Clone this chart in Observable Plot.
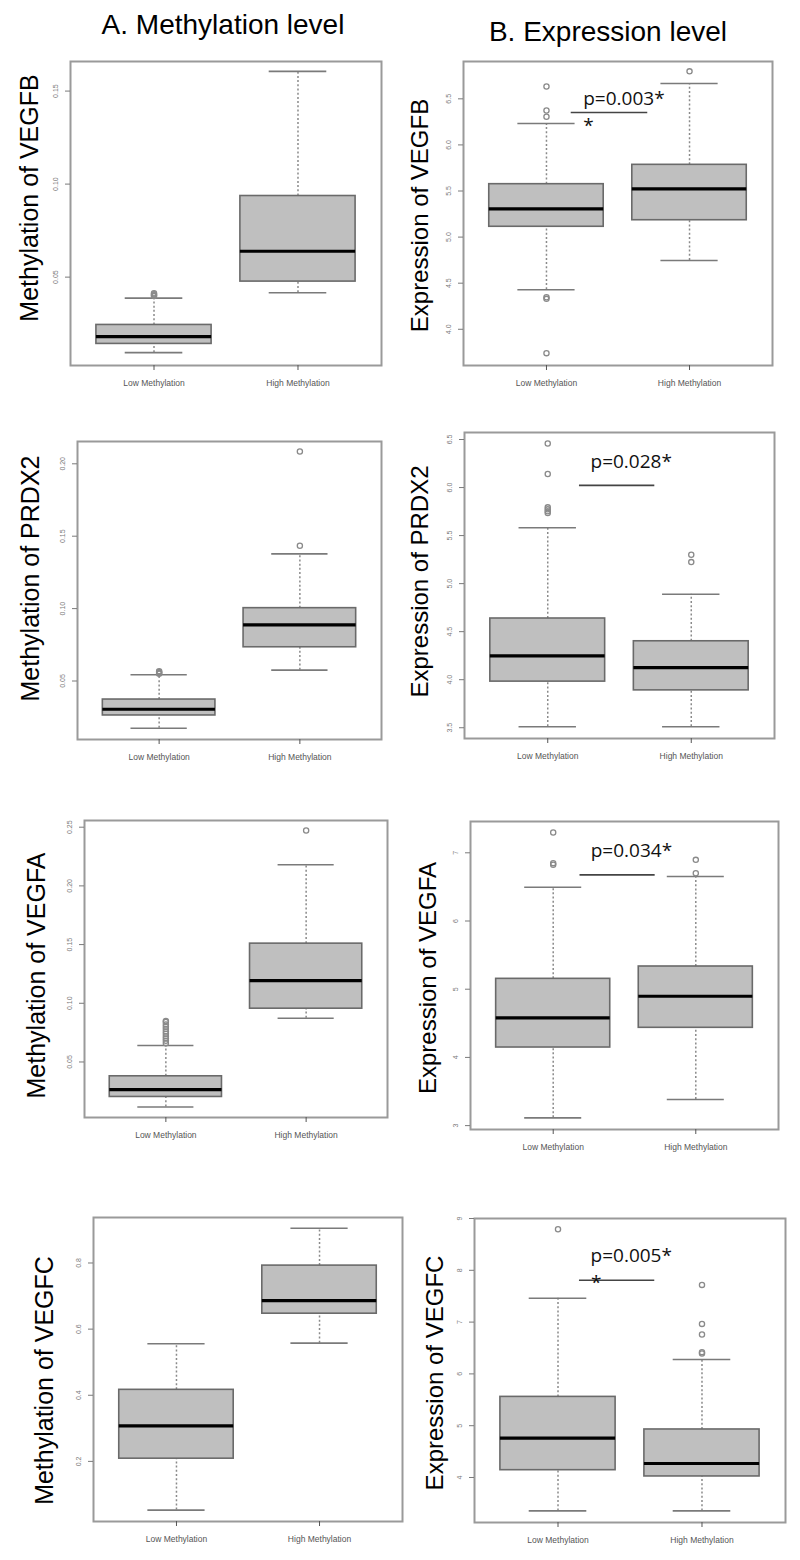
<!DOCTYPE html>
<html>
<head>
<meta charset="utf-8">
<script src="https://cdn.jsdelivr.net/npm/d3@7"></script>
<script src="https://cdn.jsdelivr.net/npm/@observablehq/plot@0.6"></script>
<style>
  html, body { margin: 0; padding: 0; background: #fff; }
  #root { position: relative; width: 800px; height: 1560px; overflow: hidden; font-family: "Liberation Sans", Arial, sans-serif; }
  .panel { position: absolute; }
  .panel svg { max-width: none !important; overflow: visible; }
  .coltitle { position: absolute; font-size: 28px; line-height: 28px; white-space: nowrap; color: #000; transform: translateX(-50%); }
</style>
</head>
<body>
<div id="root"></div>
<script>
// ---------------- DATA ----------------
const groups = ["Low Methylation", "High Methylation"];
const columnTitles = ["A. Methylation level", "B. Expression level"];

// five-number summaries: [lower whisker, Q1, median, Q3, upper whisker]
// VEGFB methylation
const vegfbMethLow = [0.0094, 0.0141, 0.0180, 0.0243, 0.0387];
const vegfbMethHigh = [0.0416, 0.0476, 0.0639, 0.0936, 0.1606];
const vegfbMethLowOut = [0.0398, 0.0403, 0.0408, 0.0413];
const vegfbMethHighOut = [];
const vegfbMethTicks = [0.05, 0.10, 0.15];
const vegfbMethRange = [0.0025, 0.1659];

// VEGFB expression
const vegfbExprLow = [4.428, 5.112, 5.307, 5.574, 6.232];
const vegfbExprHigh = [4.746, 5.183, 5.524, 5.784, 6.666];
const vegfbExprLowOut = [6.633, 6.373, 6.305, 4.348, 4.330, 3.741];
const vegfbExprHighOut = [6.798];
const vegfbExprTicks = [4.0, 4.5, 5.0, 5.5, 6.0, 6.5];
const vegfbExprRange = [3.607, 6.905];
const vegfbExprP = {label: "p=0.003*", x1: 1.173, x2: 1.708, y: 6.351, tx: 1.257, ty: 6.438, sx: 1.294, sy: 6.139};

// PRDX2 methylation
const prdx2MethLow = [0.0174, 0.0262, 0.0305, 0.0372, 0.0543];
const prdx2MethHigh = [0.0575, 0.0733, 0.0888, 0.1003, 0.1378];
const prdx2MethLowOut = [0.0550, 0.0556, 0.0562, 0.0568];
const prdx2MethHighOut = [0.1434, 0.2085];
const prdx2MethTicks = [0.05, 0.10, 0.15, 0.20];
const prdx2MethRange = [0.0096, 0.2154];

// PRDX2 expression
const prdx2ExprLow = [3.510, 3.980, 4.248, 4.637, 5.582];
const prdx2ExprHigh = [3.510, 3.889, 4.126, 4.400, 4.890];
const prdx2ExprLowOut = [6.458, 6.141, 5.794, 5.773, 5.753, 5.735];
const prdx2ExprHighOut = [5.301, 5.224];
const prdx2ExprTicks = [3.5, 4.0, 4.5, 5.0, 5.5, 6.0, 6.5];
const prdx2ExprRange = [3.388, 6.573];
const prdx2ExprP = {label: "p=0.028*", x1: 1.221, x2: 1.746, y: 6.023, tx: 1.298, ty: 6.204};

// VEGFA methylation
const vegfaMethLow = [0.0117, 0.0202, 0.0265, 0.0378, 0.0640];
const vegfaMethHigh = [0.0872, 0.0954, 0.1193, 0.1508, 0.2180];
const vegfaMethLowOut = [0.066, 0.068, 0.070, 0.072, 0.074, 0.076, 0.078, 0.080, 0.082, 0.084, 0.085];
const vegfaMethHighOut = [0.2472];
const vegfaMethTicks = [0.05, 0.10, 0.15, 0.20, 0.25];
const vegfaMethRange = [0.0027, 0.2557];

// VEGFA expression
const vegfaExprLow = [3.114, 4.145, 4.581, 5.152, 6.496];
const vegfaExprHigh = [3.383, 4.434, 4.897, 5.333, 6.652];
const vegfaExprLowOut = [7.298, 6.848, 6.824];
const vegfaExprHighOut = [6.897, 6.700];
const vegfaExprTicks = [3, 4, 5, 6, 7];
const vegfaExprRange = [2.943, 7.459];
const vegfaExprP = {label: "p=0.034*", x1: 1.188, x2: 1.715, y: 6.677, tx: 1.263, ty: 6.935};

// VEGFC methylation
const vegfcMethLow = [0.0527, 0.2082, 0.3073, 0.4164, 0.5558];
const vegfcMethHigh = [0.5576, 0.6467, 0.6861, 0.7921, 0.9052];
const vegfcMethLowOut = [];
const vegfcMethHighOut = [];
const vegfcMethTicks = [0.2, 0.4, 0.6, 0.8];
const vegfcMethRange = [0.0182, 0.9376];

// VEGFC expression
const vegfcExprLow = [3.355, 4.141, 4.759, 5.556, 7.461];
const vegfcExprHigh = [3.355, 4.020, 4.270, 4.927, 6.278];
const vegfcExprLowOut = [8.793];
const vegfcExprHighOut = [7.718, 6.965, 6.761, 6.420, 6.394];
const vegfcExprTicks = [4, 5, 6, 7, 8, 9];
const vegfcExprRange = [3.131, 9.0];
const vegfcExprP = {label: "p=0.005*", x1: 1.149, x2: 1.672, y: 7.809, tx: 1.226, ty: 8.162, sx: 1.265, sy: 7.635};

// ---------------- LAYOUT ----------------
const panels = [
  {col: 0, ylabel: "Methylation of VEGFB", low: vegfbMethLow, high: vegfbMethHigh, lowOut: vegfbMethLowOut, highOut: vegfbMethHighOut, ticks: vegfbMethTicks, range: vegfbMethRange, fmt: ".2f", frame: [70, 61, 381, 365], lab: [37, 197.5], labSize: 25},
  {col: 1, ylabel: "Expression of VEGFB", low: vegfbExprLow, high: vegfbExprHigh, lowOut: vegfbExprLowOut, highOut: vegfbExprHighOut, ticks: vegfbExprTicks, range: vegfbExprRange, fmt: ".1f", frame: [463, 61, 772, 365], lab: [427, 215], labSize: 24, p: vegfbExprP},
  {col: 0, ylabel: "Methylation of PRDX2", low: prdx2MethLow, high: prdx2MethHigh, lowOut: prdx2MethLowOut, highOut: prdx2MethHighOut, ticks: prdx2MethTicks, range: prdx2MethRange, fmt: ".2f", frame: [77, 441, 381, 739], lab: [38, 578], labSize: 25},
  {col: 1, ylabel: "Expression of PRDX2", low: prdx2ExprLow, high: prdx2ExprHigh, lowOut: prdx2ExprLowOut, highOut: prdx2ExprHighOut, ticks: prdx2ExprTicks, range: prdx2ExprRange, fmt: ".1f", frame: [464, 432, 774, 738], lab: [427, 581], labSize: 24, p: prdx2ExprP},
  {col: 0, ylabel: "Methylation of VEGFA", low: vegfaMethLow, high: vegfaMethHigh, lowOut: vegfaMethLowOut, highOut: vegfaMethHighOut, ticks: vegfaMethTicks, range: vegfaMethRange, fmt: ".2f", frame: [84, 820, 387, 1117], lab: [44, 975], labSize: 25},
  {col: 1, ylabel: "Expression of VEGFA", low: vegfaExprLow, high: vegfaExprHigh, lowOut: vegfaExprLowOut, highOut: vegfaExprHighOut, ticks: vegfaExprTicks, range: vegfaExprRange, fmt: "d", frame: [470, 821, 778, 1129], lab: [435, 977.5], labSize: 24, p: vegfaExprP},
  {col: 0, ylabel: "Methylation of VEGFC", low: vegfcMethLow, high: vegfcMethHigh, lowOut: vegfcMethLowOut, highOut: vegfcMethHighOut, ticks: vegfcMethTicks, range: vegfcMethRange, fmt: ".1f", frame: [93, 1217, 402, 1521], lab: [52, 1380], labSize: 25},
  {col: 1, ylabel: "Expression of VEGFC", low: vegfcExprLow, high: vegfcExprHigh, lowOut: vegfcExprLowOut, highOut: vegfcExprHighOut, ticks: vegfcExprTicks, range: vegfcExprRange, fmt: "d", frame: [474, 1218, 785, 1522], lab: [442, 1372.5], labSize: 24, p: vegfcExprP}
];

const root = document.getElementById("root");

// column titles
[[223, 11], [608, 18]].forEach(([cx, top], i) => {
  const d = document.createElement("div");
  d.className = "coltitle";
  d.style.left = cx + "px";
  d.style.top = top + "px";
  d.textContent = columnTitles[i];
  root.appendChild(d);
});

const HALF_BOX = 0.4, HALF_CAP = 0.2;

function drawPanel(cfg) {
  const [fx0, fy0, fx1, fy1] = cfg.frame;
  const L = cfg.col === 0 ? 0 : 395;
  const W = cfg.col === 0 ? 410 : 405;
  const T = fy0 - 22;
  const B = fy1 + 30;
  const boxes = [cfg.low, cfg.high].map((s, i) => ({
    x: i + 1, lo: s[0], q1: s[1], med: s[2], q3: s[3], hi: s[4]
  }));
  const outliers = [cfg.lowOut, cfg.highOut].flatMap((arr, i) => arr.map(v => ({x: i + 1, y: v})));
  const midY = (fy0 + fy1) / 2;
  const marks = [
    Plot.ruleX(boxes, {x: "x", y1: "q3", y2: "hi", stroke: "#8a8a8a", strokeWidth: 1.5, strokeDasharray: "2,2.2"}),
    Plot.ruleX(boxes, {x: "x", y1: "lo", y2: "q1", stroke: "#8a8a8a", strokeWidth: 1.5, strokeDasharray: "2,2.2"}),
    Plot.ruleY(boxes, {y: "hi", x1: d => d.x - HALF_CAP, x2: d => d.x + HALF_CAP, stroke: "#7a7a7a", strokeWidth: 1.6}),
    Plot.ruleY(boxes, {y: "lo", x1: d => d.x - HALF_CAP, x2: d => d.x + HALF_CAP, stroke: "#7a7a7a", strokeWidth: 1.6}),
    Plot.rect(boxes, {x1: d => d.x - HALF_BOX, x2: d => d.x + HALF_BOX, y1: "q1", y2: "q3", fill: "#bfbfbf", stroke: "#6a6a6a", strokeWidth: 1.6}),
    Plot.ruleY(boxes, {y: "med", x1: d => d.x - HALF_BOX, x2: d => d.x + HALF_BOX, stroke: "#000", strokeWidth: 3.2}),
    Plot.dot(outliers, {x: "x", y: "y", r: 2.6, stroke: "#8a8a8a", strokeWidth: 1.3, fill: "none"}),
    Plot.frame({stroke: "#9a9a9a", strokeWidth: 2}),
    Plot.axisY({ticks: cfg.ticks, tickFormat: d3.format(cfg.fmt), tickRotate: -90, tickSize: 5, tickPadding: 8, fontSize: 7, color: "#7a7a7a", label: null}),
    Plot.axisX({ticks: [1, 2], tickFormat: i => groups[i - 1], tickSize: 5, tickPadding: 9, fontSize: 8.5, color: "#555", label: null}),
    Plot.text([cfg.ylabel], {text: d => d, frameAnchor: "left", dx: cfg.lab[0] - fx0, dy: cfg.lab[1] - midY, rotate: -90, textAnchor: "middle", lineAnchor: "bottom", fontSize: cfg.labSize, fill: "#000"})
  ];
  if (cfg.p) {
    marks.push(
      Plot.ruleY([cfg.p], {y: "y", x1: "x1", x2: "x2", stroke: "#444", strokeWidth: 1.6}),
      Plot.text([cfg.p], {x: "tx", y: "ty", text: "label", textAnchor: "start", lineAnchor: "bottom", fontSize: 19, fontFamily: "Open Sans", fill: "#111"})
    );
    if (cfg.p.sx !== undefined) {
      marks.push(Plot.text([cfg.p], {x: "sx", y: "sy", text: () => "*", textAnchor: "middle", lineAnchor: "bottom", fontSize: 19, fontFamily: "Open Sans", fill: "#111"}));
    }
  }
  const chart = Plot.plot({
    width: W,
    height: B - T,
    marginLeft: fx0 - L,
    marginRight: L + W - fx1,
    marginTop: fy0 - T,
    marginBottom: B - fy1,
    style: {fontFamily: "'Liberation Sans', Arial, sans-serif", background: "transparent", overflow: "visible"},
    x: {domain: [0.42, 2.58]},
    y: {domain: cfg.range},
    marks
  });
  const div = document.createElement("div");
  div.className = "panel";
  div.style.left = L + "px";
  div.style.top = T + "px";
  div.style.width = W + "px";
  div.appendChild(chart);
  root.appendChild(div);
}

panels.forEach(drawPanel);
</script>
</body>
</html>
